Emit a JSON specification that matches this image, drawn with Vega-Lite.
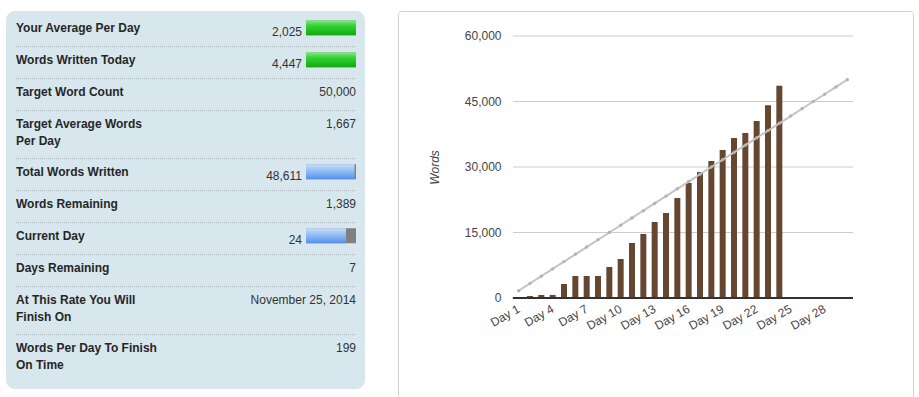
{
  "$schema": "https://vega.github.io/schema/vega-lite/v6.json",
  "background": "white",
  "padding": {"left": 6, "top": 10, "right": 0, "bottom": 0},
  "spacing": 32,
  "config": {"view": {"stroke": null}, "font": "Liberation Sans"},
  "datasets": {
    "stats": [
      {"i": 1, "label": "Your Average Per Day", "value": "2,025", "span": 2, "pct": 1, "kind": "pace"},
      {"i": 2, "label": "Words Written Today", "value": "4,447", "span": 2, "pct": 1, "kind": "pace"},
      {"i": 3, "label": "Target Word Count", "value": "50,000", "span": 2},
      {"i": 4, "label": "Target Average Words\nPer Day", "value": "1,667", "span": 3},
      {"i": 5, "label": "Total Words Written", "value": "48,611", "span": 2, "pct": 0.9722, "kind": "progress"},
      {"i": 6, "label": "Words Remaining", "value": "1,389", "span": 2},
      {"i": 7, "label": "Current Day", "value": "24", "span": 2, "pct": 0.8, "kind": "progress"},
      {"i": 8, "label": "Days Remaining", "value": "7", "span": 2},
      {"i": 9, "label": "At This Rate You Will\nFinish On", "value": "November 25, 2014", "span": 3},
      {"i": 10, "label": "Words Per Day To Finish\nOn Time", "value": "199", "span": 3}
    ],
    "days": [
      {"day": 1, "words": 0, "target": 1667},
      {"day": 2, "words": 450, "target": 3333},
      {"day": 3, "words": 700, "target": 5000},
      {"day": 4, "words": 700, "target": 6667},
      {"day": 5, "words": 3200, "target": 8333},
      {"day": 6, "words": 5040, "target": 10000},
      {"day": 7, "words": 5040, "target": 11667},
      {"day": 8, "words": 5050, "target": 13333},
      {"day": 9, "words": 7100, "target": 15000},
      {"day": 10, "words": 8930, "target": 16667},
      {"day": 11, "words": 12600, "target": 18333},
      {"day": 12, "words": 14650, "target": 20000},
      {"day": 13, "words": 17400, "target": 21667},
      {"day": 14, "words": 19470, "target": 23333},
      {"day": 15, "words": 22900, "target": 25000},
      {"day": 16, "words": 26340, "target": 26667},
      {"day": 17, "words": 28850, "target": 28333},
      {"day": 18, "words": 31370, "target": 30000},
      {"day": 19, "words": 33890, "target": 31667},
      {"day": 20, "words": 36640, "target": 33333},
      {"day": 21, "words": 37790, "target": 35000},
      {"day": 22, "words": 40530, "target": 36667},
      {"day": 23, "words": 44164, "target": 38333},
      {"day": 24, "words": 48611, "target": 40000},
      {"day": 25, "target": 41667},
      {"day": 26, "target": 43333},
      {"day": 27, "target": 45000},
      {"day": 28, "target": 46667},
      {"day": 29, "target": 48333},
      {"day": 30, "target": 50000}
    ],
    "grid": [{"v": 15000}, {"v": 30000}, {"v": 45000}, {"v": 60000}]
  },
  "hconcat": [
    {
      "width": 359,
      "height": 378,
      "view": {"fill": "#d8e7ee", "stroke": null, "cornerRadius": 9},
      "data": {"name": "stats"},
      "transform": [
        {"stack": "span", "groupby": [], "sort": [{"field": "i", "order": "ascending"}], "as": ["u0", "u1"]}
      ],
      "encoding": {
        "y": {"field": "u0", "type": "quantitative", "stack": null, "scale": {"domain": [-0.23125, 23.39375], "reverse": true, "nice": false, "zero": false, "padding": 0}, "axis": null}
      },
      "layer": [
        {
          "transform": [{"filter": "datum.i > 1"}],
          "mark": {"type": "rule", "color": "#a9b3b8", "strokeDash": [1, 1], "strokeWidth": 1},
          "encoding": {
            "x": {"datum": -5.8, "type": "quantitative", "scale": {"domain": [-6, 1.18], "nice": false, "zero": false, "padding": 0}, "axis": null},
            "x2": {"datum": 1.0}
          }
        },
        {
          "mark": {"type": "text", "align": "left", "dy": 13.5, "fontWeight": "bold", "fontSize": 12, "color": "#262626", "lineBreak": "\n", "lineHeight": 17},
          "encoding": {
            "x": {"datum": -5.8, "type": "quantitative", "axis": null},
            "text": {"field": "label"}
          }
        },
        {
          "transform": [{"filter": "!isValid(datum.pct)"}],
          "mark": {"type": "text", "align": "right", "dy": 13.5, "fontSize": 12, "color": "#333333"},
          "encoding": {
            "x": {"datum": 1.0, "type": "quantitative", "axis": null},
            "text": {"field": "value"}
          }
        },
        {
          "transform": [{"filter": "isValid(datum.pct)"}],
          "mark": {"type": "text", "align": "right", "dy": 17, "fontSize": 12, "color": "#333333"},
          "encoding": {
            "x": {"datum": -0.08, "type": "quantitative", "axis": null},
            "text": {"field": "value"}
          }
        },
        {
          "transform": [{"filter": "isValid(datum.pct)"}],
          "mark": {"type": "bar", "orient": "horizontal", "height": 15, "yOffset": 13, "color": "#808080"},
          "encoding": {
            "x": {"datum": 1, "type": "quantitative", "axis": null},
            "x2": {"datum": 0}
          }
        },
        {
          "transform": [{"filter": "datum.kind == 'pace'"}],
          "mark": {"type": "bar", "orient": "horizontal", "height": 15, "yOffset": 13,
            "color": {"gradient": "linear", "x1": 0, "y1": 0, "x2": 0, "y2": 1,
              "stops": [{"offset": 0, "color": "#8fe98f"}, {"offset": 0.35, "color": "#34d334"}, {"offset": 1, "color": "#0faa0f"}]}},
          "encoding": {
            "x": {"field": "pct", "type": "quantitative", "axis": null},
            "x2": {"datum": 0}
          }
        },
        {
          "transform": [{"filter": "datum.kind == 'progress'"}],
          "mark": {"type": "bar", "orient": "horizontal", "height": 15, "yOffset": 13,
            "color": {"gradient": "linear", "x1": 0, "y1": 0, "x2": 0, "y2": 1,
              "stops": [{"offset": 0, "color": "#c6defc"}, {"offset": 1, "color": "#5692ea"}]}},
          "encoding": {
            "x": {"field": "pct", "type": "quantitative", "axis": null},
            "x2": {"datum": 0}
          }
        }
      ]
    },
    {
      "width": 515,
      "height": 387,
      "view": {"fill": "white", "stroke": "#cfcfcf", "cornerRadius": 3},
      "data": {"name": "days"},
      "layer": [
        {
          "data": {"name": "grid"},
          "mark": {"type": "rule", "color": "#cccccc", "strokeWidth": 1},
          "encoding": {
            "x": {"datum": 0.5, "type": "quantitative", "scale": {"domain": [-9.647, 35.794], "nice": false, "zero": false, "padding": 0}},
            "x2": {"datum": 30.5},
            "y": {"field": "v", "type": "quantitative", "scale": {"domain": [-22901, 65725], "nice": false, "zero": false, "padding": 0}}
          }
        },
        {
          "transform": [{"filter": "isValid(datum.words)"}],
          "mark": {"type": "bar", "orient": "vertical", "width": 6, "color": "#654631"},
          "encoding": {
            "x": {"field": "day", "type": "quantitative",
              "axis": {"values": [1, 4, 7, 10, 13, 16, 19, 22, 25, 28], "labelExpr": "'Day ' + datum.value",
                "labelAngle": -30, "offset": -100, "domain": false, "ticks": false, "grid": false,
                "labelPadding": 5, "labelOffset": -3, "title": null, "labelFont": "Liberation Sans", "labelFontSize": 12,
                "labelColor": "#444444", "labelOverlap": false, "labelFlush": false}},
            "y": {"field": "words", "type": "quantitative", "stack": null,
              "axis": {"values": [0, 15000, 30000, 45000, 60000], "labelExpr": "format(datum.value, ',')", "offset": -115,
                "domain": false, "ticks": false, "grid": false, "labelPadding": 12,
                "title": "Words", "titleFontStyle": "italic", "titleFontWeight": "normal", "titleFontSize": 12,
                "titleFont": "Liberation Sans", "titleColor": "#444444", "titlePadding": 23, "titleY": 156,
                "labelFont": "Liberation Sans", "labelFontSize": 12, "labelColor": "#444444",
                "labelOverlap": false, "labelFlush": false}}
          }
        },
        {
          "mark": {"type": "rule", "color": "#333333", "strokeWidth": 1},
          "encoding": {
            "x": {"datum": 0.5, "type": "quantitative"},
            "x2": {"datum": 30.5},
            "y": {"datum": 0, "type": "quantitative"}
          }
        },
        {
          "mark": {"type": "line", "color": "#c4c4c4", "strokeWidth": 2,
            "point": {"filled": true, "size": 12, "color": "#b4b4b4"}},
          "encoding": {
            "x": {"field": "day", "type": "quantitative"},
            "y": {"field": "target", "type": "quantitative"}
          }
        }
      ]
    }
  ]
}
